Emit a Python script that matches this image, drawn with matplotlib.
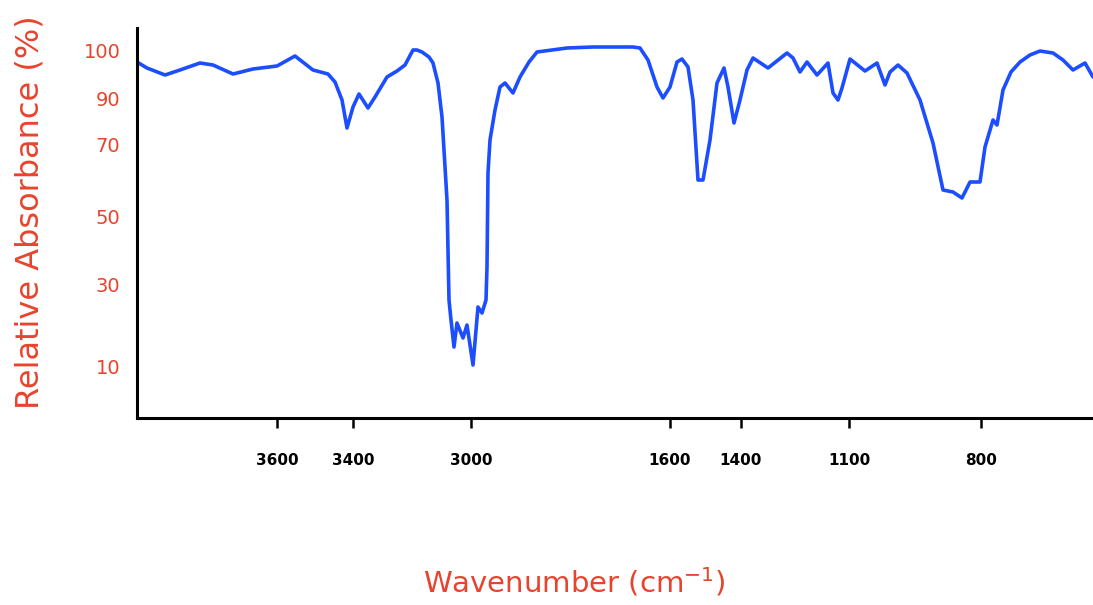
import matplotlib
matplotlib.use("Agg")
import matplotlib.pyplot as plt

# Hand-drawn IR spectrum. Axis is not to scale, so positions are in
# drawing units: x = distance from the y-axis, y = height above the x-axis.
x_pos = [0, 10, 28, 43, 63, 76, 96, 116, 140, 158,
         176, 191, 198, 205, 210, 216, 222, 231, 238, 250,
         260, 268, 276, 280, 285, 292, 296, 301, 305, 310, 312,
         314, 317, 320, 326, 330, 336, 341, 345, 349, 350,
         351, 353, 358, 363, 368, 376, 383, 392, 400, 430, 456,
         496, 503, 511, 520, 526, 533, 540, 545, 551, 556,
         561, 566, 573, 580, 587, 591, 597, 603, 610, 616,
         631, 650, 656, 663, 670, 680, 691, 696, 701, 705,
         713, 728, 740, 748, 753, 761, 770, 783, 796, 806,
         816, 825, 833, 843, 848, 856, 860, 866, 874, 883, 893, 903,
         916, 926, 936, 948, 956]
y_pos = [356, 350, 343, 348, 355, 353, 344, 349, 352, 362,
         348, 344, 336, 318, 290, 311, 324, 310, 321, 341,
         347, 353, 368, 368, 366, 361, 355, 335, 301, 218, 118,
         98, 71, 95, 80, 93, 53, 111, 105, 118, 151,
         245, 278, 308, 331, 335, 325, 341, 356, 366, 370, 371,
         371, 370, 358, 331, 320, 331, 356, 359, 351, 318,
         238, 238, 278, 335, 350, 331, 295, 318, 348, 360,
         350, 365, 360, 346, 356, 343, 355, 325, 318, 330,
         359, 347, 355, 333, 346, 353, 345, 318, 275, 228,
         226, 220, 236, 236, 271, 298, 293, 328, 346, 356, 363, 367,
         365, 358, 348, 355, 341]

# Tick marks as drawn
xtick_pos = [140, 216, 334, 533, 604, 712, 844]
xtick_labels = ["3600", "3400", "3000", "1600", "1400", "1100", "800"]
ytick_pos = [367, 319, 273, 201, 133, 51]
ytick_labels = ["100", "90", "70", "50", "30", "10"]

red = "#e8432d"
blue = "#1c4dff"

fig = plt.figure(figsize=(10.93, 6.05), dpi=100)
ax = fig.add_axes([137 / 1093, 187 / 605, 956 / 1093, 390 / 605])

ax.plot(x_pos, y_pos, color=blue, lw=2.6, solid_joinstyle="round",
        solid_capstyle="round")

ax.set_xlim(0, 956)
ax.set_ylim(0, 390)

for side in ["top", "right"]:
    ax.spines[side].set_visible(False)
for side in ["left", "bottom"]:
    ax.spines[side].set_linewidth(2.2)
    ax.spines[side].set_color("black")

ax.set_xticks(xtick_pos)
ax.set_xticklabels(xtick_labels, fontsize=11, fontweight="bold")
ax.tick_params(axis="x", direction="out", length=7, width=1.8, pad=18)

ax.set_yticks(ytick_pos)
ax.set_yticklabels(ytick_labels, fontsize=14, color=red)
ax.tick_params(axis="y", length=0, pad=12)

fig.text(30 / 1093, 1 - 212 / 605, "Relative Absorbance (%)", rotation=90,
         ha="center", va="center", fontsize=23, color=red)
fig.text(574 / 1093, 1 - 582 / 605, "Wavenumber (cm$^{-1}$)",
         ha="center", va="center", fontsize=21, color=red)

fig.savefig("out.png", dpi=100)
